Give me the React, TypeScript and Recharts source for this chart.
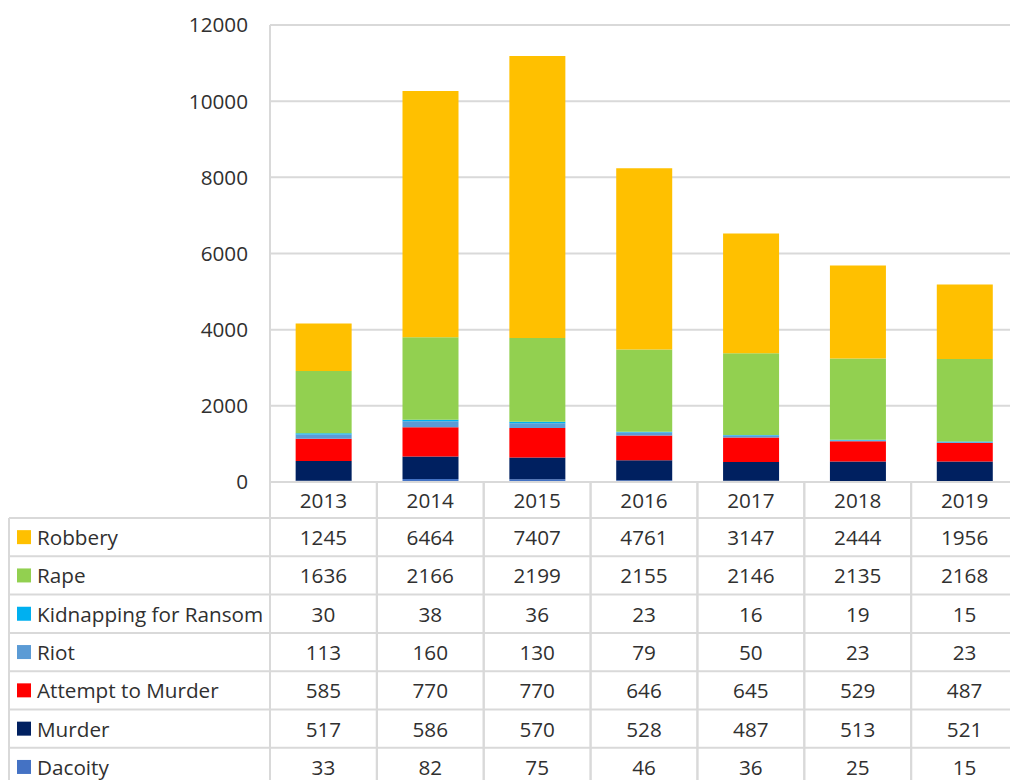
import React from 'react';
import { BarChart, Bar, XAxis, YAxis, CartesianGrid } from 'recharts';

const years = ['2013', '2014', '2015', '2016', '2017', '2018', '2019'];
const robbery = [1245, 6464, 7407, 4761, 3147, 2444, 1956];
const rape = [1636, 2166, 2199, 2155, 2146, 2135, 2168];
const kidnapping = [30, 38, 36, 23, 16, 19, 15];
const riot = [113, 160, 130, 79, 50, 23, 23];
const attempt = [585, 770, 770, 646, 645, 529, 487];
const murder = [517, 586, 570, 528, 487, 513, 521];
const dacoity = [33, 82, 75, 46, 36, 25, 15];
const yTicks = [0, 2000, 4000, 6000, 8000, 10000, 12000];

// table rows top -> bottom
const tableRows = [
  { key: 'robbery', name: 'Robbery', color: '#FFC000', values: robbery },
  { key: 'rape', name: 'Rape', color: '#92D050', values: rape },
  { key: 'kidnapping', name: 'Kidnapping for Ransom', color: '#00B0F0', values: kidnapping },
  { key: 'riot', name: 'Riot', color: '#5B9BD5', values: riot },
  { key: 'attempt', name: 'Attempt to Murder', color: '#FF0000', values: attempt },
  { key: 'murder', name: 'Murder', color: '#002060', values: murder },
  { key: 'dacoity', name: 'Dacoity', color: '#4472C4', values: dacoity },
];
// stacking order bottom -> top
const stackOrder = [...tableRows].reverse();

const data = years.map((year, i) => {
  const row: any = { year };
  tableRows.forEach((r) => (row[r.key] = r.values[i]));
  return row;
});

const CHART_W = 1018;
const CHART_H = 780;
const Y_AXIS_W = 270;
const X_AXIS_H = 298;
const COL_W = (CHART_W - Y_AXIS_W) / years.length;
const HEADER_H = 36;
const ROW_H = 38.3;
const LEGEND_W = 261;
const FONT = '"Open Sans", sans-serif';
const FS = 20.7;
const TEXT = '#303030';
const LINE = '#D9D9D9';

const TableTick = (props: any) => {
  const { x, y, payload } = props;
  const i: number = payload.index ?? props.index ?? 0;
  const half: number = payload.offset ? payload.offset : COL_W / 2;
  const left = x - half;
  const right = x + half;
  const els: any[] = [];
  els.push(
    <text key="h" x={x} y={y + HEADER_H / 2} textAnchor="middle" dominantBaseline="central" fill={TEXT} fontSize={FS} fontFamily={FONT}>
      {payload.value}
    </text>
  );
  els.push(<line key="vl" x1={left} x2={left} y1={y} y2={y + 400} stroke={LINE} strokeWidth={2} />);
  els.push(<line key="vr" x1={right} x2={right} y1={y} y2={y + 400} stroke={LINE} strokeWidth={2} />);
  tableRows.forEach((r, ri) => {
    const top = y + HEADER_H + ri * ROW_H;
    els.push(<line key={'hl' + ri} x1={left} x2={right} y1={top} y2={top} stroke={LINE} strokeWidth={2} />);
    els.push(
      <text key={'t' + ri} x={x} y={top + ROW_H / 2} textAnchor="middle" dominantBaseline="central" fill={TEXT} fontSize={FS} fontFamily={FONT}>
        {r.values[i]}
      </text>
    );
    if (i === 0) {
      const lx = left - LEGEND_W;
      els.push(<line key={'ll' + ri} x1={lx} x2={left} y1={top} y2={top} stroke={LINE} strokeWidth={2} />);
      els.push(<rect key={'sq' + ri} x={lx + 8} y={top + ROW_H / 2 - 7} width={14} height={14} fill={r.color} />);
      els.push(
        <text key={'lt' + ri} x={lx + 28} y={top + ROW_H / 2} textAnchor="start" dominantBaseline="central" fill={TEXT} fontSize={FS} fontFamily={FONT}>
          {r.name}
        </text>
      );
    }
  });
  if (i === 0) {
    const lx = left - LEGEND_W;
    els.push(<line key="lv" x1={lx} x2={lx} y1={y + HEADER_H} y2={y + 400} stroke={LINE} strokeWidth={2} />);
  }
  return <g>{els}</g>;
};

export default function App() {
  return (
    <div style={{ position: 'absolute', left: 0, top: 0, width: 1010, height: 780, overflow: 'hidden', background: '#fff' }}>
      <BarChart
        width={CHART_W}
        height={CHART_H}
        data={data}
        margin={{ top: 25, right: 0, bottom: 0, left: 0 }}
        barCategoryGap="24%"
      >
        <CartesianGrid vertical={false} stroke={LINE} strokeWidth={2} />
        <XAxis
          dataKey="year"
          height={X_AXIS_H}
          axisLine={{ stroke: LINE, strokeWidth: 2 }}
          tickLine={false}
          tickSize={0}
          tickMargin={0}
          interval={0}
          tick={<TableTick />}
        />
        <YAxis
          width={Y_AXIS_W}
          domain={[0, 12000]}
          ticks={yTicks}
          axisLine={{ stroke: LINE, strokeWidth: 2 }}
          tickLine={false}
          tickSize={0}
          tickMargin={22}
          tick={{ fill: TEXT, fontSize: FS, fontFamily: FONT }}
        />
        {stackOrder.map((s) => (
          <Bar key={s.key} dataKey={s.key} name={s.name} stackId="a" fill={s.color} isAnimationActive={false} />
        ))}
      </BarChart>
    </div>
  );
}
